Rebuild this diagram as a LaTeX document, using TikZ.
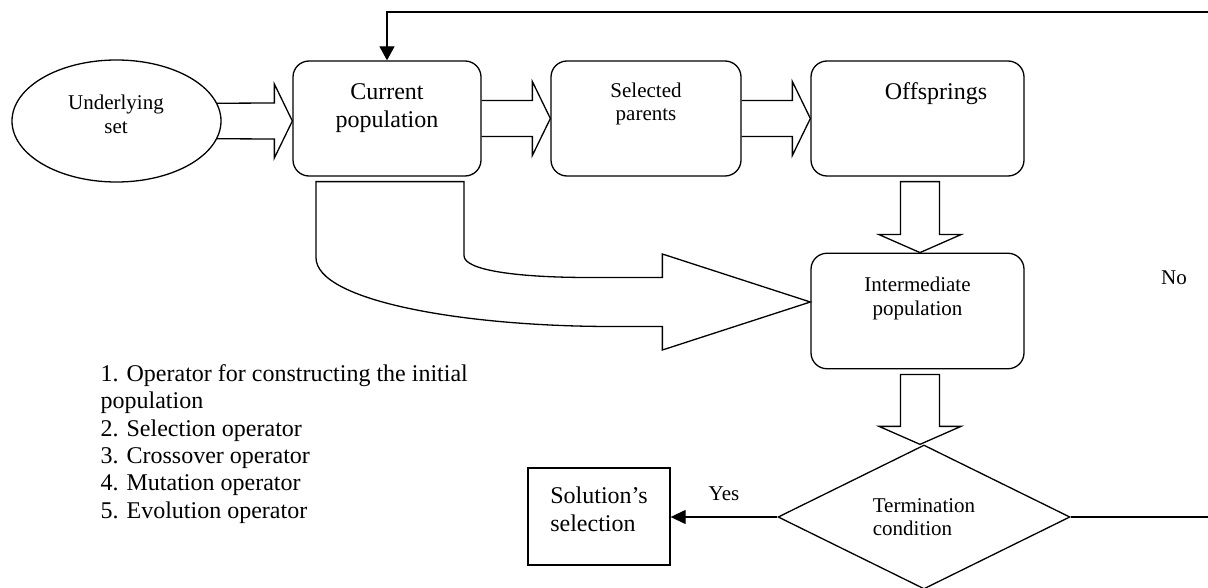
\documentclass[tikz,border=0pt]{standalone}
\usepackage{fontspec}
\setmainfont{Liberation Serif}
\usetikzlibrary{arrows.meta,calc,shapes.geometric}

\begin{document}
\begin{tikzpicture}[
  x=1pt, y=-1pt,
  line width=1.3pt,
  bigtext/.style={font=\fontsize{24pt}{28pt}\selectfont, align=center},
  smalltext/.style={font=\fontsize{21pt}{23.5pt}\selectfont, align=center},
  popbox/.style={draw, rounded corners=16pt, minimum height=115pt, inner sep=0pt},
  blockarrow/.style={line join=miter},
  fbtip/.style={-{Triangle[length=14pt,width=15pt]}}
]
  \useasboundingbox (0,0) rectangle (1208,588);

  \node[draw, ellipse, minimum width=209pt, minimum height=122pt, inner sep=0pt] (und) at (116.5,121) {};
  \node[smalltext] (und-txt) at (116,114.5) {Underlying\\set};

  \node[popbox, minimum width=188pt] (cur) at (387,118.5) {};
  \node[bigtext] (cur-txt) at (387,108.5) {Current\\population};
  \node[popbox, minimum width=190pt] (sel) at (646,118.5) {};
  \node[smalltext] (sel-txt) at (646,104) {Selected\\parents};
  \node[popbox, minimum width=213pt] (off) at (917.5,118.5) {};
  \node[bigtext] (off-txt) at (936,94) {Offsprings};
  \node[popbox, minimum width=213pt, minimum height=115.5pt] (inter) at (917.5,311) {};
  \node[smalltext] (inter-txt) at (917.5,298.5) {Intermediate\\population};

  \node[draw, diamond, aspect=2, minimum width=292pt, minimum height=144pt,
        inner sep=0pt, smalltext, align=left] (term) at (924,517) {Termination\\condition};
  \node[draw, minimum width=142pt, minimum height=97pt] (sol) at (599,516.5) {};
  \node[bigtext, align=left] (sol-txt) at (599,509) {Solution’s\\selection};

  \node[smalltext] (no) at (1174,278) {No};
  \node[font=\fontsize{24pt}{27.3pt}\selectfont, align=left, anchor=north west, inner sep=0pt] (ops)
    at (100,364) {1. Operator for constructing the initial\\population\\2. Selection operator\\3. Crossover operator\\4. Mutation operator\\5. Evolution operator};

  % block arrows along the top row
  \coordinate (tip1) at (und.east -| cur.west);
  \draw[blockarrow] (und.10) -- ($(tip1)+(-18,-18)$) -- ($(tip1)+(-18,-37)$) -- (tip1)
    -- ($(tip1)+(-18,37)$) -- ($(tip1)+(-18,18)$) -- (und.-10);
  \coordinate (tip2) at (sel.west);
  \draw[blockarrow] ($(cur.east)+(0,-18)$) -- ($(tip2)+(-18,-18)$) -- ($(tip2)+(-18,-37)$) -- (tip2)
    -- ($(tip2)+(-18,37)$) -- ($(tip2)+(-18,18)$) -- ($(cur.east)+(0,18)$);
  \coordinate (tip3) at (off.west);
  \draw[blockarrow] ($(sel.east)+(0,-18)$) -- ($(tip3)+(-18,-18)$) -- ($(tip3)+(-18,-37)$) -- (tip3)
    -- ($(tip3)+(-18,37)$) -- ($(tip3)+(-18,18)$) -- ($(sel.east)+(0,18)$);

  % block arrows going down
  \coordinate (top4) at ($(off.south)+(2.5,5)$);
  \coordinate (tip4) at ($(inter.north)+(2.5,0)$);
  \draw[blockarrow] ($(top4)+(-19.5,0)$) -- ($(top4)+(19.5,0)$) -- ($(tip4)+(19.5,-18)$) -- ($(tip4)+(41,-18)$)
    -- (tip4) -- ($(tip4)+(-41,-18)$) -- ($(tip4)+(-19.5,-18)$) -- cycle;
  \coordinate (top5) at ($(inter.south)+(2.5,5)$);
  \coordinate (tip5) at ($(inter.south |- term.north)+(2.5,0)$);
  \draw[blockarrow] ($(top5)+(-19.5,0)$) -- ($(top5)+(19.5,0)$) -- ($(tip5)+(19.5,-18)$) -- ($(tip5)+(41,-18)$)
    -- (tip5) -- ($(tip5)+(-41,-18)$) -- ($(tip5)+(-19.5,-18)$) -- cycle;

  % curved arrow from the current population
  \coordinate (cl) at ($(cur.south)+(-71,5)$);
  \coordinate (cr) at ($(cur.south)+(77,5)$);
  \coordinate (ctip) at ($(inter.west)+(0,-9)$);
  \draw[blockarrow] (cl) -- (cr) -- ++(0,74)
    .. controls +(0,15) and +(-70,0) .. ($(ctip)+(-221,-24.5)$)
    -- ($(ctip)+(-148,-24.5)$) -- ($(ctip)+(-148,-48)$) -- (ctip)
    -- ($(ctip)+(-148,48)$) -- ($(ctip)+(-148,24.5)$) -- ($(ctip)+(-198,24.5)$)
    .. controls +(-150,0) and +(0,43) .. ($(cl)+(0,76)$) -- cycle;

  % decisions
  \draw[-{Triangle[length=15pt,width=14pt]}] (term.west) -- (term.west -| sol.east)
    node[smalltext, midway, above=16pt, inner sep=0pt] (yes) {Yes};
  \coordinate (loop) at (1216,12);
  \draw[fbtip] (term.east) -| (loop) -| (cur.north);
\end{tikzpicture}
\end{document}
